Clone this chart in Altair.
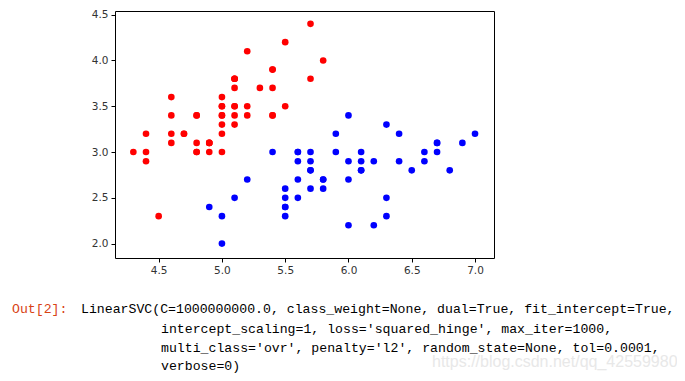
import altair as alt
import pandas as pd

# Iris: setosa (red) and versicolor (blue), sepal length vs sepal width
setosa_len = [5.1,4.9,4.7,4.6,5.0,5.4,4.6,5.0,4.4,4.9,5.4,4.8,4.8,4.3,5.8,5.7,5.4,5.1,5.7,5.1,
              5.4,5.1,4.6,5.1,4.8,5.0,5.0,5.2,5.2,4.7,4.8,5.4,5.2,5.5,4.9,5.0,5.5,4.9,4.4,5.1,
              5.0,4.5,4.4,5.0,5.1,4.8,5.1,4.6,5.3,5.0]
setosa_wid = [3.5,3.0,3.2,3.1,3.6,3.9,3.4,3.4,2.9,3.1,3.7,3.4,3.0,3.0,4.0,4.4,3.9,3.5,3.8,3.8,
              3.4,3.7,3.6,3.3,3.4,3.0,3.4,3.5,3.4,3.2,3.1,3.4,4.1,4.2,3.1,3.2,3.5,3.1,3.0,3.4,
              3.5,2.3,3.2,3.5,3.8,3.0,3.8,3.2,3.7,3.3]
versi_len = [7.0,6.4,6.9,5.5,6.5,5.7,6.3,4.9,6.6,5.2,5.0,5.9,6.0,6.1,5.6,6.7,5.6,5.8,6.2,5.6,
             5.9,6.1,6.3,6.1,6.4,6.6,6.8,6.7,6.0,5.7,5.5,5.5,5.8,6.0,5.4,6.0,6.7,6.3,5.6,5.5,
             5.5,6.1,5.8,5.0,5.6,5.7,5.7,6.2,5.1,5.7]
versi_wid = [3.2,3.2,3.1,2.3,2.8,2.8,3.3,2.4,2.9,2.7,2.0,3.0,2.2,2.9,2.9,3.1,3.0,2.7,2.2,2.5,
             3.2,2.8,2.5,2.8,2.9,3.0,2.8,3.0,2.9,2.6,2.4,2.4,2.7,2.7,3.0,3.4,3.1,2.3,3.0,2.5,
             2.6,3.0,2.6,2.3,2.7,3.0,2.9,2.9,2.5,2.8]
x_ticks = [4.5, 5.0, 5.5, 6.0, 6.5, 7.0]
y_ticks = [2.0, 2.5, 3.0, 3.5, 4.0, 4.5]

prompt = "Out[2]:"
out_lines = [
    "LinearSVC(C=1000000000.0, class_weight=None, dual=True, fit_intercept=True,",
    "intercept_scaling=1, loss='squared_hinge', max_iter=1000,",
    "multi_class='ovr', penalty='l2', random_state=None, tol=0.0001,",
    "verbose=0)",
]
watermark = "https://blog.csdn.net/qq_42559980"

df = pd.DataFrame({
    "x": setosa_len + versi_len,
    "y": setosa_wid + versi_wid,
    "cls": ["setosa"] * len(setosa_len) + ["versicolor"] * len(versi_len),
})

W, H = 379, 247

points = alt.Chart(df).mark_circle(size=44, opacity=1).encode(
    x=alt.X("x:Q", scale=alt.Scale(domain=[4.155, 7.15], nice=False, zero=False),
            axis=alt.Axis(values=x_ticks, format=".1f", title=None, grid=False)),
    y=alt.Y("y:Q", scale=alt.Scale(domain=[1.843, 4.54], nice=False, zero=False),
            axis=alt.Axis(values=y_ticks, format=".1f", title=None, grid=False)),
    color=alt.Color("cls:N", scale=alt.Scale(domain=["setosa", "versicolor"],
                                             range=["#ff0000", "#0000ff"]), legend=None),
)

mono = "Liberation Mono"
prompt_text = alt.Chart(pd.DataFrame({"t": [prompt]})).mark_text(
    align="left", baseline="middle", font=mono, fontSize=13.2, color="#D84315"
).encode(text="t:N", x=alt.value(-103), y=alt.value(298))

line_df = pd.DataFrame({
    "t": out_lines,
    "px": [-34, 46, 46, 46],
    "py": [298, 317.5, 336.5, 354.5],
})
code_text = alt.Chart(line_df).mark_text(
    align="left", baseline="middle", font=mono, fontSize=13.2, color="#000000"
).encode(text="t:N", x=alt.X("px:Q", scale=None), y=alt.Y("py:Q", scale=None))

wm = alt.Chart(pd.DataFrame({"t": [watermark]})).mark_text(
    align="left", baseline="middle", font="Liberation Sans", fontSize=16, color="#e8e8e8"
).encode(text="t:N", x=alt.value(317), y=alt.value(351))

chart = alt.layer(points, wm, prompt_text, code_text).properties(
    width=W, height=H,
    autosize=alt.AutoSizeParams(type="none"),
    padding={"left": 107, "top": 3, "right": 183, "bottom": 115},
).configure_view(
    stroke="#000000", strokeWidth=1
).configure_axis(
    domain=False, tickColor="#000000", tickSize=4, labelFontSize=10.5,
    labelColor="#333333", labelFont="DejaVu Sans", labelPadding=3,
)

chart.save("out.html", embed_options={"renderer": "svg", "actions": False})
